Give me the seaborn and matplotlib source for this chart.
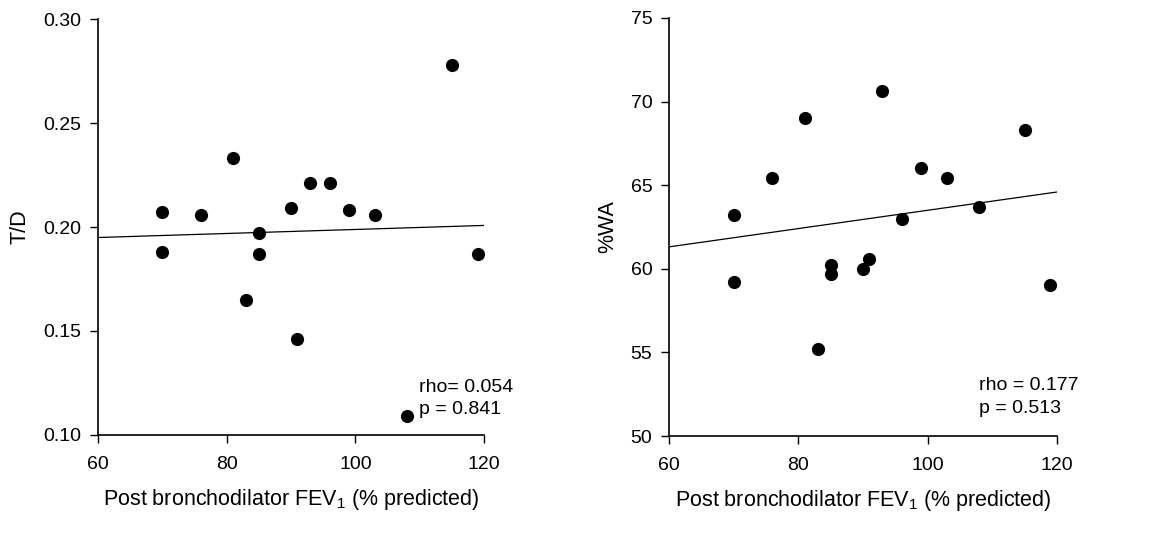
import matplotlib
matplotlib.use("Agg")
import matplotlib.pyplot as plt
import seaborn as sns
import numpy as np
import pandas as pd

# Data
fev1 = [70, 70, 76, 81, 83, 85, 85, 90, 91, 93, 96, 99, 103, 108, 115, 119]
td = [0.207, 0.188, 0.206, 0.233, 0.165, 0.197, 0.187, 0.209, 0.146, 0.221,
      0.221, 0.208, 0.206, 0.109, 0.278, 0.187]
fev1_wa = [70, 70, 76, 81, 83, 85, 85, 90, 91, 93, 96, 99, 103, 108, 115, 119]
wa = [63.2, 59.2, 65.4, 69.0, 55.2, 60.2, 59.7, 60.0, 60.6, 70.6,
      63.0, 66.0, 65.4, 63.7, 68.3, 59.0]

xticks = [60, 80, 100, 120]
td_ticks = [0.10, 0.15, 0.20, 0.25, 0.30]
wa_ticks = [50, 55, 60, 65, 70, 75]
xlabel = "Post bronchodilator FEV$_1$ (% predicted)"
stats_left = ["rho= 0.054", "p = 0.841"]
stats_right = ["rho = 0.177", "p = 0.513"]

sns.set_theme(style="ticks")
plt.rcParams["font.family"] = ["Liberation Sans", "DejaVu Sans"]
plt.rcParams["mathtext.fontset"] = "custom"
plt.rcParams["mathtext.rm"] = "Liberation Sans"
plt.rcParams["mathtext.it"] = "Liberation Sans"
plt.rcParams["text.color"] = "black"
plt.rcParams["axes.labelcolor"] = "black"

df1 = pd.DataFrame({"x": fev1, "y": td})
df2 = pd.DataFrame({"x": fev1_wa, "y": wa})

fig = plt.figure(figsize=(11.49, 5.34), dpi=100)
ax1 = fig.add_axes([0.0853, 0.1854, 0.336, 0.779])
ax2 = fig.add_axes([0.5822, 0.1835, 0.3377, 0.783])


def panel(ax, df, yticks, ylabel, fmt, stats, sx, sy):
    ax.set_xlim(60, 120)
    ax.set_ylim(yticks[0], yticks[-1])
    sns.regplot(data=df, x="x", y="y", ax=ax, ci=None, truncate=False,
                scatter_kws=dict(s=90, color="black", edgecolor="black", linewidths=0, alpha=1),
                line_kws=dict(color="black", lw=0.9))
    ax.set_xlim(60, 120)
    ax.set_ylim(yticks[0], yticks[-1])
    ax.set_xticks(xticks)
    ax.set_yticks(yticks)
    ax.set_yticklabels([fmt.format(v) for v in yticks])
    ax.set_xlabel(xlabel, fontsize=15.5, labelpad=10, color="black")
    ax.set_ylabel(ylabel, fontsize=15.5, labelpad=9, color="black")
    ax.tick_params(axis="both", direction="out", length=6, width=1, labelsize=14,
                   color="black", labelcolor="black")
    ax.tick_params(axis="x", pad=9)
    ax.tick_params(axis="y", pad=6)
    for s in ["left", "bottom"]:
        ax.spines[s].set_color("black")
        ax.spines[s].set_linewidth(1.2)
    sns.despine(ax=ax)
    ax.text(sx, sy[0], stats[0], fontsize=14, va="baseline", ha="left", color="black")
    ax.text(sx, sy[1], stats[1], fontsize=14, va="baseline", ha="left", color="black")


panel(ax1, df1, td_ticks, "T/D", "{:.2f}", stats_left, 109.9, [0.1207, 0.1103])
panel(ax2, df2, wa_ticks, "%WA", "{:.0f}", stats_right, 108.0, [52.75, 51.35])

fig.savefig("out.png", dpi=100, facecolor="white")
